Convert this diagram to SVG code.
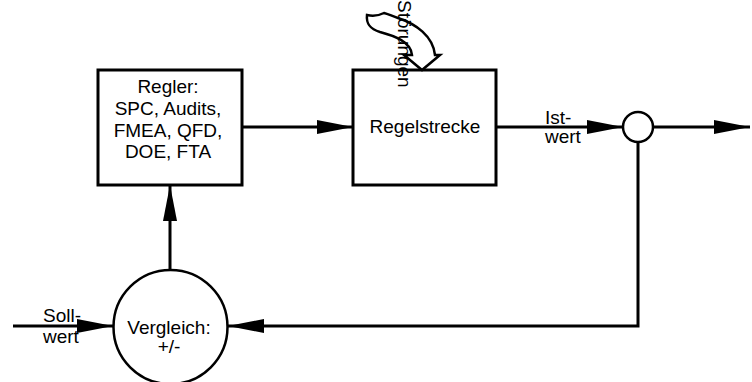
<svg xmlns="http://www.w3.org/2000/svg" width="752" height="382" viewBox="0 0 752 382">
<style>
text{font-family:"Liberation Sans",Arial,sans-serif;font-size:19px;fill:#000}
.box{fill:#fff;stroke:#000;stroke-width:3}
.circ{fill:#fff;stroke:#000;stroke-width:2.5}
.wire{fill:none;stroke:#000;stroke-width:3}
.mid{text-anchor:middle}
</style>
<defs>
<marker id="ah" markerUnits="userSpaceOnUse" markerWidth="36" markerHeight="14" refX="36" refY="7" orient="auto">
<path d="M0,0 L36,7 L0,14 z" fill="#000"/>
</marker>
</defs>
<g id="connectors">
<path class="wire" d="M242 127 L353 127" marker-end="url(#ah)"/>
<path class="wire" d="M496 127 L623 127" marker-end="url(#ah)"/>
<path class="wire" d="M653 127 L750 127" marker-end="url(#ah)"/>
<path class="wire" d="M638 142 L638 326 L228 326" marker-end="url(#ah)"/>
<path class="wire" d="M13 326 L113 326" marker-end="url(#ah)"/>
<path class="wire" d="M170 270 L170 185" marker-end="url(#ah)"/>
</g>
<g id="regler">
<rect class="box" x="98" y="70" width="144" height="115"/>
<text class="mid" x="168" y="93">Regler:</text>
<text class="mid" x="168" y="115">SPC, Audits,</text>
<text class="mid" x="168" y="137">FMEA, QFD,</text>
<text class="mid" x="168" y="158">DOE, FTA</text>
</g>
<g id="regelstrecke">
<rect class="box" x="353" y="70" width="143" height="115"/>
<text class="mid" x="425" y="133">Regelstrecke</text>
</g>
<g id="summierpunkt">
<circle class="circ" cx="638" cy="127" r="15"/>
</g>
<g id="vergleich">
<circle class="circ" cx="170.5" cy="327" r="57"/>
<text class="mid" x="169" y="334">Vergleich:</text>
<text class="mid" x="169" y="353">+/-</text>
</g>
<g id="stoerungen">
<path d="M367 15 C366 24 370 29 380 32 C395 36 411 42 412 55 L404 55 L422 70 L440 55 L435 55 C433 36 416 24 398 18 C392 16 388 14 384 13 Q376 17 367 15 Z" fill="#fff" stroke="#000" stroke-width="2.5" stroke-linejoin="miter"/>
<text transform="translate(398,0) rotate(90)" x="0" y="0">Störungen</text>
</g>
<g id="labels">
<text x="545" y="124">Ist-</text>
<text x="545" y="143">wert</text>
<text x="43" y="322">Soll-</text>
<text x="43" y="343">wert</text>
</g>
</svg>
